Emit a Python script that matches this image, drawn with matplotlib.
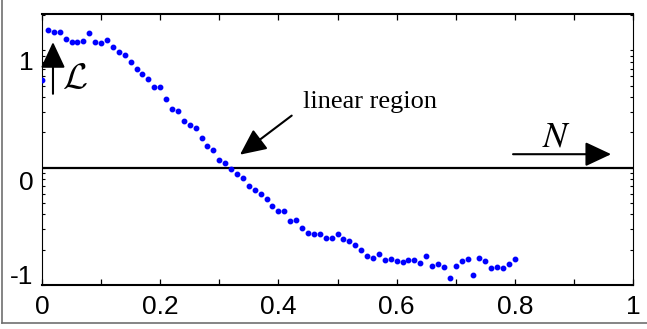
import matplotlib

matplotlib.use("Agg")
import matplotlib.pyplot as plt
import numpy as np
from matplotlib.lines import Line2D
from matplotlib.ticker import FixedLocator, LogLocator, NullFormatter
from matplotlib.transforms import ScaledTranslation

# values: 81 samples from 0 to 0.8, y as log10 exponent
x = np.linspace(0.0, 0.8, 81)
log_L = [
    0.746, 1.174, 1.154, 1.154, 1.094, 1.068, 1.068, 1.077, 1.145, 1.068,
    1.060, 1.088, 1.028, 0.983, 0.960, 0.897, 0.839, 0.799, 0.755, 0.686,
    0.686, 0.584, 0.498, 0.481, 0.396, 0.362, 0.336, 0.250, 0.185, 0.151,
    0.066, 0.040, -0.015, -0.054, -0.088, -0.154, -0.191, -0.225, -0.268, -0.327,
    -0.370, -0.370, -0.456, -0.444, -0.513, -0.556, -0.564, -0.567, -0.601, -0.601,
    -0.567, -0.607, -0.624, -0.658, -0.701, -0.752, -0.769, -0.735, -0.786, -0.780,
    -0.795, -0.803, -0.786, -0.786, -0.812, -0.752, -0.838, -0.821, -0.846, -0.940,
    -0.838, -0.795, -0.778, -0.915, -0.769, -0.795, -0.855, -0.846, -0.855, -0.821,
    -0.778,
]
xticks = [0.0, 0.1, 0.2, 0.3, 0.4, 0.5, 0.6, 0.7, 0.8, 0.9, 1.0]
xtick_labels = ["0", "", "0.2", "", "0.4", "", "0.6", "", "0.8", "", "1"]
ytick_exp = [-1, 0, 1]
ytick_labels = ["-1", "0", "1"]

fig = plt.figure(figsize=(6.47, 3.29), dpi=100)
fig.patch.set_facecolor("white")
ax = fig.add_axes([0.0649, 0.1337, 0.9135, 0.8237])

ax.set_yscale("log")
ax.plot(x, 10.0 ** np.array(log_L), ls="none", marker="o", ms=3.2,
        color="#0000ff", mec="#0000ff", zorder=3)
ax.axhline(1.0, color="black", lw=1.6, zorder=2)

ax.set_xlim(0, 1)
ax.set_ylim(10 ** -1.0, 10 ** 1.31)

# ticks
ax.xaxis.set_major_locator(FixedLocator(xticks))
ax.set_xticklabels(xtick_labels, fontfamily="Liberation Sans", fontsize=19)
ax.tick_params(axis="x", which="major", direction="in", length=4, width=0.9,
               top=True, pad=7)
ax.set_yticks([10.0 ** e for e in ytick_exp])
ax.set_yticklabels(ytick_labels, fontfamily="Liberation Sans", fontsize=19)
ax.yaxis.set_minor_locator(LogLocator(base=10, subs=np.arange(2, 10)))
ax.yaxis.set_minor_formatter(NullFormatter())
ax.tick_params(axis="y", which="both", direction="in", length=2.5, width=0.8,
               right=True, pad=6)

# the y labels in the original sit a bit off their ticks
for lab, dy in zip(ax.get_yticklabels(), [-11, 13, 10]):
    lab.set_transform(lab.get_transform() + ScaledTranslation(0, -dy / 100, fig.dpi_scale_trans))

for side in ("top", "bottom"):
    ax.spines[side].set_linewidth(1.5)
for side in ("left", "right"):
    ax.spines[side].set_linewidth(0.8)

head = dict(arrowstyle="-|>,head_length=1.6,head_width=0.75", mutation_scale=10,
            color="black", lw=1.5, shrinkA=0, shrinkB=0)

# up arrow + script L
ax.annotate("", xy=(0.0186, 10 ** 1.071), xytext=(0.0186, 10 ** 0.63), arrowprops=head)
ax.text(0.056, 10 ** 0.765, r"$\mathcal{L}$", fontsize=26, math_fontfamily="cm",
        ha="center", va="center")

# linear region pointer
ax.annotate("", xy=(0.335, 10 ** 0.111), xytext=(0.4225, 10 ** 0.444), arrowprops=head)
ax.text(0.4416, 10 ** 0.564, "linear region", fontfamily="Liberation Serif",
        fontsize=19, ha="left", va="center")

# N arrow
ax.annotate("", xy=(0.963, 10 ** 0.115), xytext=(0.797, 10 ** 0.115), arrowprops=head)
ax.text(0.871, 10 ** 0.265, r"$N$", fontsize=26, math_fontfamily="stix",
        ha="center", va="center")

# outer frame (left and bottom edges only)
fig.add_artist(Line2D([0.003, 0.003], [0.018, 1.0], transform=fig.transFigure,
                      color="#707070", lw=1.2))
fig.add_artist(Line2D([0.003, 1.0], [0.018, 0.018], transform=fig.transFigure,
                      color="#707070", lw=1.2))

fig.savefig("out.png", dpi=100, facecolor="white")
